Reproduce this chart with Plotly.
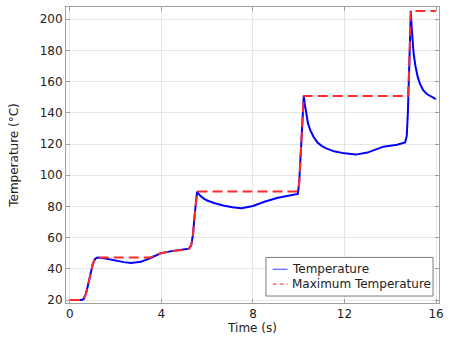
import numpy as np
import plotly.graph_objects as go

time = [0, 0.5, 0.6, 0.7, 0.8, 0.9, 1.0, 1.1, 1.2, 1.5, 2.0, 2.35, 2.67, 3.1,
        3.5, 3.97, 4.5, 5.0, 5.2, 5.3, 5.38, 5.45, 5.5, 5.56, 5.6, 5.7, 5.85,
        6.0, 6.3, 6.7, 7.1, 7.5, 8.0, 8.5, 9.09, 9.6, 9.96, 10.02, 10.07,
        10.12, 10.17, 10.22, 10.26, 10.32, 10.4, 10.5, 10.65, 10.82, 11.0,
        11.2, 11.54, 12.0, 12.5, 13.0, 13.7, 14.3, 14.65, 14.72, 14.77, 14.82,
        14.86, 14.9, 14.93, 14.97, 15.02, 15.1, 15.2, 15.3, 15.44, 15.6, 15.8,
        15.99]
temperature = [20, 20, 20.5, 24, 30, 37, 43, 46.3, 47.3, 46.8, 45.3, 44.3,
               43.8, 44.5, 46.8, 50, 51.5, 52.2, 52.8, 55, 62, 74, 84, 89.5,
               88.5, 86.8, 85, 83.8, 82.2, 80.6, 79.5, 78.9, 80.3, 83, 85.5,
               87, 88, 95, 110, 128, 143, 150.7, 146, 139, 133.5, 129, 124.5,
               121, 118.8, 117.2, 115.3, 114, 113.2, 114.5, 118.3, 119.5, 121,
               125, 140, 165, 190, 205.3, 196, 186, 178, 170, 163, 158.5,
               154.5, 152, 150.3, 148.8]

max_temperature = np.maximum.accumulate(np.array(temperature, dtype=float))

legend_labels = ["Temperature", "Maximum Temperature"]

fig = go.Figure()
fig.add_trace(go.Scatter(x=time, y=temperature, mode="lines", name=legend_labels[0],
                         line=dict(color="#0000ff", width=2), showlegend=False))
fig.add_trace(go.Scatter(x=time, y=max_temperature, mode="lines",
                         name=legend_labels[1], showlegend=False,
                         line=dict(color="#ff2a2a", width=2, dash="10px,5px")))

axis_common = dict(showgrid=True, gridcolor="#e6e6e6", gridwidth=1,
                   showline=True, linecolor="#a0a0a0", linewidth=1,
                   mirror="allticks", ticks="inside", ticklen=4,
                   tickcolor="#a0a0a0", zeroline=False,
                   tickfont=dict(family="DejaVu Sans", size=12, color="#222"),
                   title_font=dict(family="DejaVu Sans", size=12, color="#222"))

# manual legend (box, sample lines, labels)
lx0, lx1, ly0, ly1 = 0.536, 0.984, 0.0235, 0.154
rows_y = [0.114, 0.0638]
sample_x = [0.554, 0.594]
legend_styles = [dict(color="#5a5aff", width=1.2),
                 dict(color="#ff5050", width=1.2, dash="4px,3px")]
shapes = [dict(type="rect", xref="paper", yref="paper", x0=lx0, x1=lx1,
               y0=ly0, y1=ly1, line=dict(color="#7a7a7a", width=1),
               fillcolor="white", layer="above")]
annotations = []
for yy, lab, st in zip(rows_y, legend_labels, legend_styles):
    shapes.append(dict(type="line", xref="paper", yref="paper",
                       x0=sample_x[0], x1=sample_x[1], y0=yy, y1=yy,
                       line=st, layer="above"))
    annotations.append(dict(xref="paper", yref="paper", x=0.5995, y=yy,
                            xanchor="left", yanchor="middle", text=lab,
                            showarrow=False,
                            font=dict(family="DejaVu Sans", size=12, color="#222")))

fig.update_layout(
    width=450, height=338,
    margin=dict(l=66, r=7, t=6, b=34),
    plot_bgcolor="white", paper_bgcolor="white",
    font=dict(family="DejaVu Sans", size=12, color="#222"),
    xaxis=dict(range=[-0.17, 16.13], tickvals=[0, 4, 8, 12, 16],
               title=dict(text="Time (s)", standoff=2), **axis_common),
    yaxis=dict(range=[18.1, 207.8], tickvals=list(range(20, 201, 20)),
               title=dict(text="Temperature (°C)", standoff=18), **axis_common),
    shapes=shapes, annotations=annotations,
    showlegend=False,
)

fig.write_html("out.html")
